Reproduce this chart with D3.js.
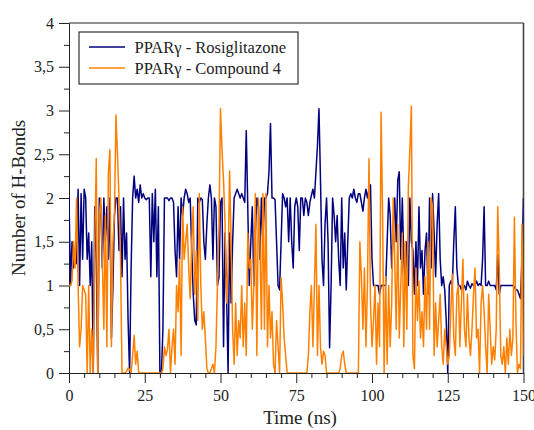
<!DOCTYPE html>
<html>
<head>
<meta charset="utf-8">
<script src="https://cdn.jsdelivr.net/npm/d3@7"></script>
<style>
    body { margin: 0; background: #fff; }
    .axis path, .axis line { stroke: #222; }
</style>
</head>
<body>
<script>
// sampling interval of both series (ns)
var timeStep = 0.5;
var serif = '"Liberation Serif", "Times New Roman", serif';

var seriesNames = ['PPAR\u03b3 - Rosiglitazone', 'PPAR\u03b3 - Compound 4'];
var seriesColors = ['#00007f', '#ff8000'];

// H-bond count, one row per 5 ns
var rosiglitazone = [
    2.0, 1.0, 1.5, 1.2, 1.4, 1.25, 2.1, 1.0, 2.05, 1.3,
    2.1, 2.0, 1.3, 1.6, 1.0, 1.5, 0.0, 1.9, 1.3, 0.0,
    2.0, 1.9, 1.2, 2.0, 1.5, 1.9, 1.3, 2.0, 0.4, 1.0,
    1.8, 2.0, 2.0, 1.4, 1.9, 1.1, 2.0, 1.3, 1.6, 0.6,
    0.0, 1.2, 2.0, 2.25, 2.0, 2.1, 1.95, 2.15, 2.0, 2.05,
    2.0, 1.98, 2.0, 2.0, 1.1, 2.05, 1.5, 2.1, 1.1, 1.9,
    0.0, 0.0, 0.5, 2.0, 2.0, 2.0, 1.97, 2.0, 2.0, 1.95,
    1.4, 1.1, 1.9, 1.3, 2.0, 1.8, 2.0, 2.1, 2.05, 1.95,
    2.0, 1.4, 0.9, 0.6, 0.55, 2.0, 1.95, 2.0, 1.98, 1.5,
    1.3, 1.7, 2.0, 2.15, 2.0, 1.3, 2.0, 1.9, 1.0, 1.1,
    1.95, 2.0, 0.3, 1.6, 0.9, 0.0, 1.6, 0.8, 1.5, 2.0,
    2.05, 2.1, 2.05, 2.0, 2.05, 2.0, 1.95, 2.77, 1.9, 1.0,
    1.5, 1.9, 1.0, 1.6, 2.0, 1.9, 1.3, 2.0, 1.5, 2.0,
    2.0, 2.05, 2.3, 2.85, 2.0, 2.0, 1.98, 1.5, 1.0, 0.95,
    1.5, 2.05, 2.0, 1.9, 2.0, 1.5, 2.0, 1.5, 1.2, 1.9,
    2.0, 1.9, 1.4, 2.0, 2.0, 1.8, 2.0, 1.95, 1.8, 1.95,
    2.03, 2.1, 2.0, 2.3, 2.6, 3.02, 2.2, 1.3, 1.0, 1.7,
    2.0, 1.5, 0.29, 1.0, 2.0, 1.8, 1.5, 1.8, 1.3, 1.0,
    2.0, 1.2, 1.6, 0.95, 1.5, 2.0, 2.05, 2.0, 2.1, 2.0,
    1.95, 2.05, 2.05, 1.95, 1.85, 2.0, 2.1, 2.0, 2.1, 2.15,
    1.3, 1.0, 1.0, 1.0, 1.0, 0.9, 1.0, 1.0, 1.0, 1.0,
    1.5, 2.0, 1.8, 1.2, 1.6, 2.0, 1.5, 2.2, 2.3, 1.3,
    2.0, 1.3, 1.0, 1.5, 1.0, 2.0, 1.5, 1.4, 0.9, 1.5,
    1.0, 1.9, 1.2, 1.4, 0.9, 1.4, 1.6, 0.9, 2.0, 1.2,
    2.05, 1.6, 1.1, 1.7, 2.05, 1.3, 1.0, 1.1, 0.95, 0.6,
    0.0, 1.0, 1.05, 1.0, 1.5, 1.9, 1.2, 1.0, 1.0, 0.95,
    1.0, 1.0, 0.95, 1.05, 1.0, 0.97, 1.02, 1.0, 1.0, 1.05,
    1.0, 1.02, 1.0, 1.3, 1.9, 1.0, 1.0, 1.05, 1.0, 1.0,
    1.0, 1.0, 0.95, 1.35, 0.9, 1.0, 1.0, 1.0, 1.0, 1.0,
    1.0, 1.0, 1.0, 1.0, 0.98, 0.95, 0.95, 0.9, 0.85, 1.3,
    2.0
];

var compound4 = [
    1.0, 1.0, 1.05, 1.5, 1.2, 2.0, 1.0, 0.3, 0.5, 1.0,
    0.95, 0.9, 0.0, 1.0, 0.0, 0.5, 0.0, 1.5, 2.45, 0.0,
    1.8, 2.0, 1.3, 0.5, 1.8, 0.3, 2.3, 2.55, 0.3, 1.5,
    1.8, 2.95, 2.5, 2.0, 1.3, 0.0, 0.0, 0.0, 0.02, 0.06,
    0.04, 0.0, 0.2, 0.43, 0.1, 0.25, 0.0, 0.0, 0.0, 0.0,
    0.0, 0.0, 0.0, 0.0, 0.0, 0.0, 0.0, 0.0, 0.0, 0.0,
    0.0, 0.0, 0.05, 0.3, 0.2, 0.27, 0.5, 0.0, 0.3, 0.5,
    0.1, 1.0, 0.7, 1.3, 0.2, 1.9, 1.3, 1.5, 1.7, 1.2,
    0.85, 1.5, 1.9, 0.9, 1.4, 0.6, 2.05, 1.0, 0.5, 0.7,
    0.4, 0.05, 0.0, 0.0, 0.05, 0.1, 0.0, 0.3, 1.0, 1.7,
    3.02, 2.55, 2.2, 1.7, 0.8, 1.2, 2.31, 1.5, 0.5, 0.1,
    0.8, 0.2, 0.6, 0.4, 1.0, 0.3, 0.8, 0.2, 1.6, 1.2,
    1.3, 0.5, 1.0, 2.05, 0.2, 2.0, 1.5, 0.5, 2.05, 0.5,
    2.05, 0.3, 1.0, 0.4, 0.7, 0.1, 0.0, 0.6, 0.3, 0.0,
    1.09, 0.8, 0.4, 0.2, 0.0, 0.0, 0.0, 0.0, 0.0, 0.0,
    0.0, 0.0, 0.0, 0.0, 0.0, 0.0, 0.0, 0.0, 0.2, 0.7,
    1.0, 0.3, 1.0, 1.7, 0.2, 1.0, 0.3, 0.1, 0.25, 0.2,
    0.0, 0.0, 0.0, 0.0, 0.0, 0.0, 0.0, 0.0, 0.0, 0.05,
    0.2, 0.25, 0.1, 0.0, 0.0, 0.0, 0.0, 0.0, 0.0, 0.0,
    0.0, 0.0, 1.5, 1.1, 0.5, 1.2, 0.3, 1.0, 2.45, 0.8,
    0.3, 0.6, 1.0, 0.1, 0.8, 0.3, 2.98, 1.8, 0.0, 1.1,
    0.1, 1.0, 0.3, 0.8, 2.0, 1.3, 0.5, 1.7, 0.4, 1.0,
    1.6, 0.3, 1.5, 0.5, 2.14, 2.55, 3.05, 0.2, 0.05, 1.2,
    0.6, 1.05, 0.4, 0.7, 0.3, 1.1, 0.5, 1.5, 0.5, 2.0,
    1.9, 0.2, 0.8, 0.3, 0.6, 0.9, 0.3, 0.1, 0.5, 0.3,
    0.1, 0.2, 0.7, 1.13, 0.4, 0.2, 0.9, 1.0, 0.3, 0.8,
    1.3, 0.5, 0.3, 0.9, 0.4, 0.2, 0.5, 0.9, 1.2, 0.4,
    0.5, 0.0, 0.8, 1.0, 0.7, 0.3, 0.0, 0.9, 0.5, 0.1,
    0.3, 0.15, 0.5, 1.9, 1.2, 0.2, 0.1, 0.3, 0.0, 0.4,
    0.1, 0.5, 0.2, 0.4, 1.78, 0.6, 0.0, 0.1, 0.05, 1.7,
    0.2
];

var xMajorTicks = [0, 25, 50, 75, 100, 125, 150];
var xMinorTicks = [5, 10, 15, 20, 30, 35, 40, 45, 55, 60, 65, 70, 80, 85, 90, 95, 105, 110, 115, 120, 130, 135, 140, 145];
var yMajorTicks = [0, 0.5, 1, 1.5, 2, 2.5, 3, 3.5, 4];
var yMinorTicks = [0.25, 0.75, 1.25, 1.75, 2.25, 2.75, 3.25, 3.75];

var width = 534,
    height = 430,
    plot = { left: 69, right: 523.5, top: 23, bottom: 373 };

var svg = d3.select('body').append('svg')
    .attr('width', width)
    .attr('height', height)
    .attr('font-family', serif);

var x = d3.scaleLinear().domain([0, 150]).range([plot.left, plot.right]);
var y = d3.scaleLinear().domain([0, 4]).range([plot.bottom, plot.top]);

var commaFormat = d => String(d).replace('.', ',');

function styleAxis(g) {
    g.attr('font-family', serif)
        .attr('font-size', 16);
    g.selectAll('text').attr('fill', '#222');
}

// y axis, major + minor ticks
svg.append('g')
    .attr('class', 'axis')
    .attr('transform', 'translate(' + plot.left + ',0)')
    .call(d3.axisLeft(y).tickValues(yMinorTicks).tickSize(5).tickFormat(''))
    .call(g => g.select('.domain').remove());
svg.append('g')
    .attr('class', 'axis')
    .attr('transform', 'translate(' + plot.left + ',0)')
    .call(d3.axisLeft(y).tickValues(yMajorTicks).tickSize(10).tickPadding(5).tickSizeOuter(0).tickFormat(commaFormat))
    .call(styleAxis);

// x axis
svg.append('g')
    .attr('class', 'axis')
    .attr('transform', 'translate(0,' + plot.bottom + ')')
    .call(d3.axisBottom(x).tickValues(xMinorTicks).tickSize(5).tickFormat(''))
    .call(g => g.select('.domain').remove());
svg.append('g')
    .attr('class', 'axis')
    .attr('transform', 'translate(0,' + plot.bottom + ')')
    .call(d3.axisBottom(x).tickValues(xMajorTicks).tickSize(10).tickPadding(7).tickSizeOuter(0))
    .call(styleAxis);

// frame top / right
svg.append('line')
    .attr('x1', plot.left).attr('x2', plot.right)
    .attr('y1', plot.top).attr('y2', plot.top)
    .attr('stroke', '#222');
svg.append('line')
    .attr('x1', plot.right).attr('x2', plot.right)
    .attr('y1', plot.top).attr('y2', plot.bottom)
    .attr('stroke', '#444')
    .attr('stroke-width', 1.6);

svg.append('defs').append('clipPath')
    .attr('id', 'plot-clip')
    .append('rect')
    .attr('x', plot.left).attr('y', plot.top - 2)
    .attr('width', plot.right - plot.left).attr('height', plot.bottom - plot.top + 2);

var line = d3.line()
    .x((d, i) => x(i * timeStep))
    .y(d => y(d));

var lines = svg.append('g').attr('clip-path', 'url(#plot-clip)');
[rosiglitazone, compound4].forEach(function (series, idx) {
    lines.append('path')
        .attr('d', line(series))
        .attr('fill', 'none')
        .attr('stroke', seriesColors[idx])
        .attr('stroke-width', 1.5)
        .attr('stroke-linejoin', 'round');
});

// axis titles
svg.append('text')
    .attr('font-family', serif)
    .attr('font-size', 19)
    .attr('fill', '#222')
    .attr('text-anchor', 'middle')
    .attr('x', 300)
    .attr('y', 424)
    .text('Time (ns)');
svg.append('text')
    .attr('font-family', serif)
    .attr('font-size', 19)
    .attr('fill', '#222')
    .attr('text-anchor', 'middle')
    .attr('transform', 'translate(25,' + ((plot.top + plot.bottom) / 2) + ') rotate(-90)')
    .text('Number of H-Bonds');

// legend
var legend = svg.append('g').attr('class', 'legend');
legend.append('rect')
    .attr('x', 79).attr('y', 32)
    .attr('width', 219).attr('height', 52)
    .attr('fill', '#fff')
    .attr('stroke', '#333')
    .attr('stroke-width', 1.2);
seriesNames.forEach(function (name, idx) {
    var ly = 47 + idx * 21;
    legend.append('line')
        .attr('x1', 89).attr('x2', 125)
        .attr('y1', ly).attr('y2', ly)
        .attr('stroke', seriesColors[idx])
        .attr('stroke-width', 1.6);
    legend.append('text')
        .attr('font-family', serif)
        .attr('font-size', 16.5)
        .attr('fill', '#222')
        .attr('x', 134.5)
        .attr('y', ly + 5.5)
        .text(name);
});
</script>
</body>
</html>
